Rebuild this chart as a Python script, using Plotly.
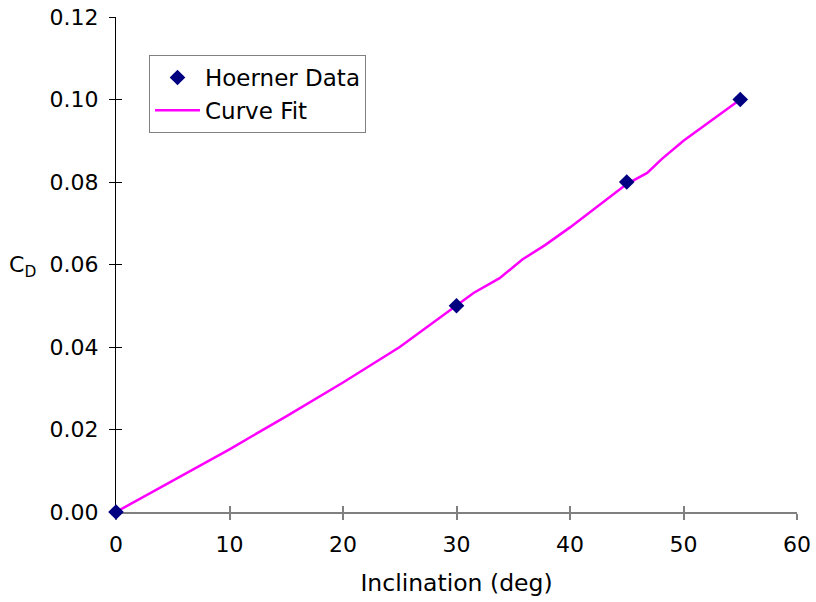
import plotly.graph_objects as go

# Data
data_x = [0, 30, 45, 55]
data_y = [0.0, 0.05, 0.08, 0.10]

fit_x = [0, 5, 10, 15, 20, 25, 31.5, 33.8, 35.8, 37.8, 40, 45, 46.8, 48.1, 50, 52, 55]
fit_y = [0.0, 0.0075, 0.0152, 0.0232, 0.0314, 0.0400, 0.0531, 0.0567, 0.0612,
         0.0647, 0.0690, 0.0795, 0.0822, 0.0856, 0.0900, 0.0940, 0.1000]

x_ticks = [0, 10, 20, 30, 40, 50, 60]
y_ticks = [0.00, 0.02, 0.04, 0.06, 0.08, 0.10, 0.12]

FONT = "DejaVu Sans"
W, H = 816, 602
L, R, T, B = 116, 19, 17, 90

fig = go.Figure()
# invisible trace for the overlay axes (crossing ticks)
fig.add_trace(go.Scatter(
    x=data_x, y=data_y, xaxis="x2", yaxis="y2", mode="markers",
    marker=dict(opacity=0), showlegend=False, hoverinfo="skip",
))
fig.add_trace(go.Scatter(
    x=fit_x, y=fit_y, mode="lines", name="Curve Fit", legendrank=2,
    line=dict(color="#FF00FF", width=2.5),
))
fig.add_trace(go.Scatter(
    x=data_x, y=data_y, mode="markers", name="Hoerner Data", legendrank=1,
    marker=dict(symbol="diamond", size=12, color="#000080"),
    cliponaxis=False,
))

xr = [0, 60]
yr = [0, 0.12]
fig.update_layout(
    width=W, height=H,
    margin=dict(l=L, r=R, t=T, b=B, autoexpand=False),
    paper_bgcolor="white", plot_bgcolor="white",
    font=dict(family=FONT, size=22, color="black"),
    xaxis=dict(range=xr, tickvals=x_ticks, showgrid=False, zeroline=False,
               showline=True, linecolor="#808080", linewidth=2,
               ticks="outside", ticklen=6, tickwidth=1.5, tickcolor="#808080",
               ticklabelstandoff=6, automargin=False,
               title=dict(text="Inclination (deg)", standoff=18, font=dict(size=23.5)),
               layer="below traces"),
    yaxis=dict(range=yr, tickvals=y_ticks, tickformat=".2f", showgrid=False,
               zeroline=False, showline=True, linecolor="black", linewidth=1,
               ticks="outside", ticklen=6, tickwidth=1, tickcolor="black",
               ticklabelstandoff=6, automargin=False,
               layer="below traces"),
    xaxis2=dict(range=xr, tickvals=x_ticks, overlaying="x", showgrid=False,
                zeroline=False, showticklabels=False, ticks="inside", ticklen=6,
                tickwidth=1.5, tickcolor="#808080", side="bottom",
                automargin=False, layer="below traces"),
    yaxis2=dict(range=yr, tickvals=y_ticks, overlaying="y", showgrid=False,
                zeroline=False, showticklabels=False, ticks="inside", ticklen=6,
                tickwidth=1, tickcolor="black", side="left",
                automargin=False, layer="below traces"),
    legend=dict(x=(149 - L) / (W - L - R), y=(512 - 55) / (H - T - B),
                xanchor="left", yanchor="top", bordercolor="#808080",
                borderwidth=1, bgcolor="white", font=dict(size=23),
                itemwidth=45),
    showlegend=True,
)
fig.add_annotation(
    text="C<sub>D</sub>", xref="paper", yref="paper",
    x=(38 - L) / (W - L - R), y=(512 - 266) / (H - T - B),
    xanchor="right", yanchor="middle", showarrow=False,
    font=dict(size=22),
)

fig.write_html("out.html")
